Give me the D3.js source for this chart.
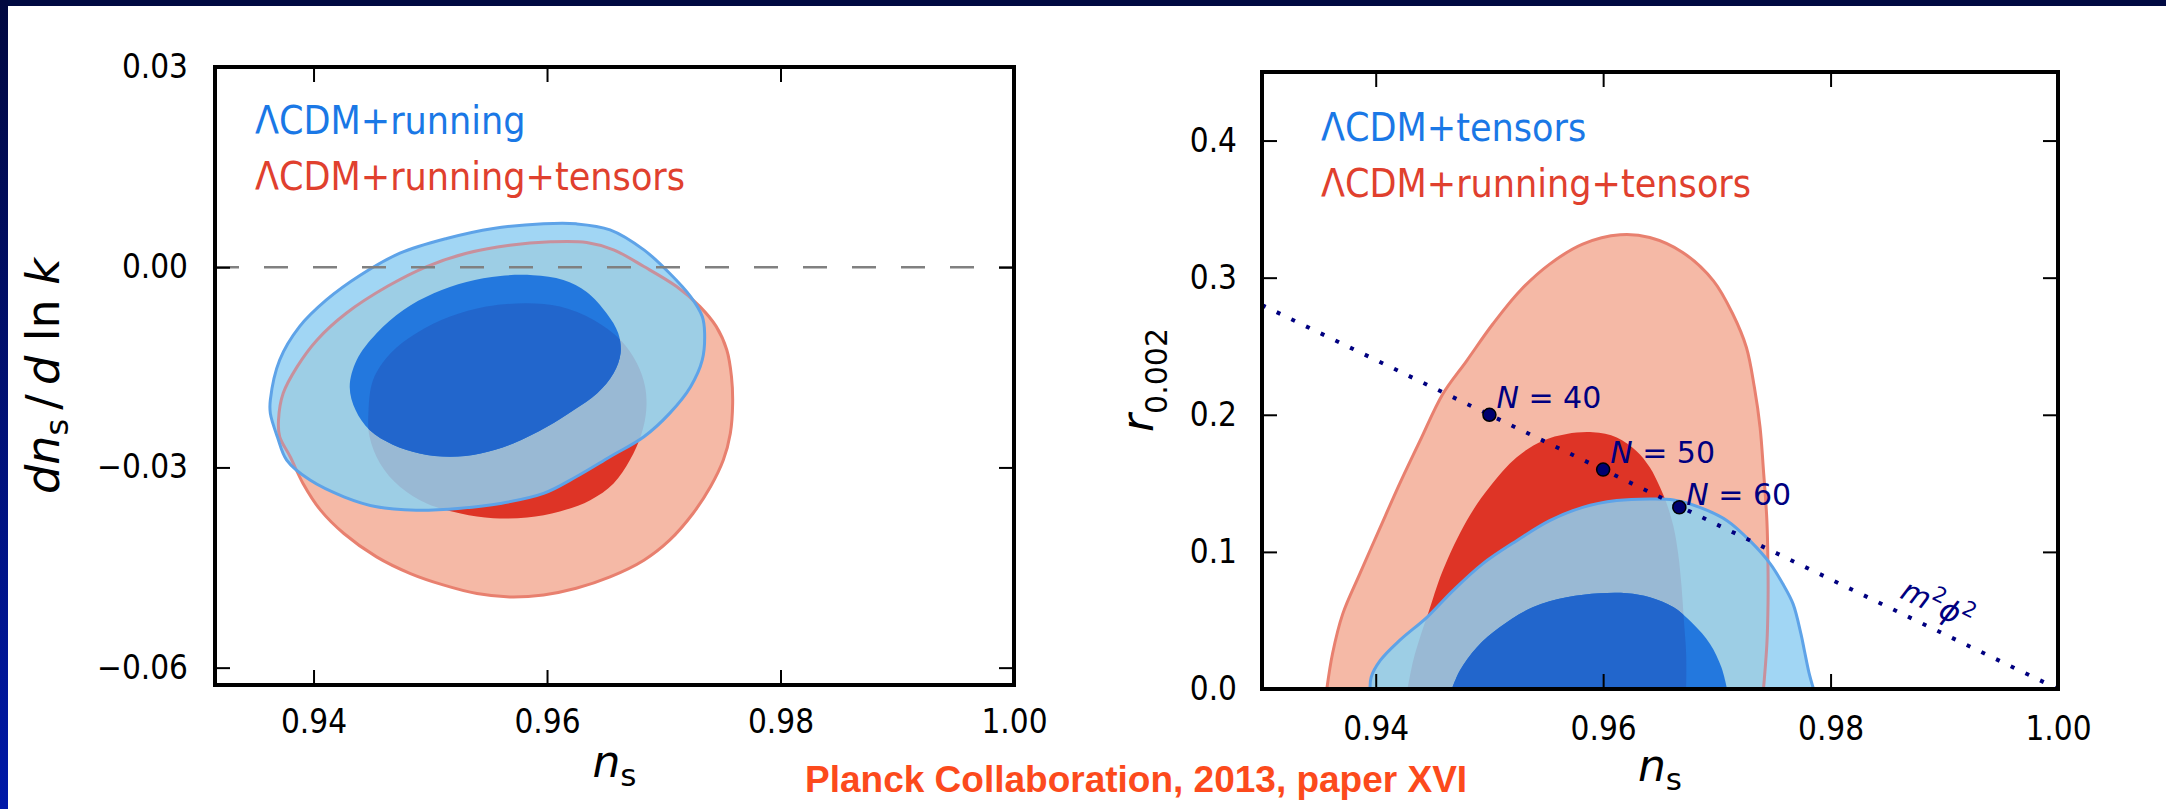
<!DOCTYPE html>
<html><head><meta charset="utf-8">
<script src="https://cdn.jsdelivr.net/npm/d3@7"></script>
<style>
html,body{margin:0;padding:0;background:#fff;overflow:hidden;}
svg{display:block;}
</style></head><body>
<svg id="c" width="2166" height="809"></svg>
<script>
// ---------------- DATA ----------------
// Left panel: n_s vs dn_s/dlnk
const leftXTicks = [0.94, 0.96, 0.98, 1.00];
const leftXTickLabels = ["0.94", "0.96", "0.98", "1.00"];
const leftYTicks = [-0.06, -0.03, 0.00, 0.03];
const leftYTickLabels = ["\u22120.06", "\u22120.03", "0.00", "0.03"];
const leftLegend = ["\u039BCDM+running", "\u039BCDM+running+tensors"];

// contours: [n_s, dn_s/dlnk]
const leftBlueOuter = [[0.9363,-0.0199],[0.9371,-0.0139],[0.9388,-0.0089],[0.9411,-0.0049],[0.9440,-0.0012],[0.9474,0.0021],[0.9514,0.0043],[0.9554,0.0058],[0.9597,0.0065],[0.9625,0.0065],[0.9654,0.0056],[0.9683,0.0026],[0.9705,-0.0009],[0.9723,-0.0044],[0.9733,-0.0074],[0.9735,-0.0099],[0.9733,-0.0139],[0.9723,-0.0179],[0.9705,-0.0219],[0.9683,-0.0254],[0.9654,-0.0284],[0.9625,-0.0314],[0.9597,-0.0339],[0.9560,-0.0354],[0.9526,-0.0361],[0.9488,-0.0364],[0.9454,-0.0359],[0.9426,-0.0344],[0.9397,-0.0319],[0.9377,-0.0289],[0.9369,-0.0254],[0.9363,-0.0219]];
const leftBlueInner = [[0.9431,-0.0179],[0.9437,-0.0139],[0.9454,-0.0099],[0.9477,-0.0064],[0.9503,-0.0039],[0.9531,-0.0022],[0.9560,-0.0013],[0.9588,-0.0012],[0.9614,-0.0019],[0.9634,-0.0037],[0.9651,-0.0069],[0.9661,-0.0099],[0.9663,-0.0129],[0.9657,-0.0159],[0.9643,-0.0189],[0.9623,-0.0214],[0.9600,-0.0239],[0.9571,-0.0264],[0.9543,-0.0279],[0.9517,-0.0284],[0.9491,-0.0279],[0.9468,-0.0266],[0.9448,-0.0244],[0.9436,-0.0214]];
const leftRedOuter = [[0.9370,-0.0229],[0.9374,-0.0189],[0.9386,-0.0149],[0.9403,-0.0109],[0.9428,-0.0069],[0.9463,-0.0029],[0.9497,0.0001],[0.9531,0.0021],[0.9568,0.0033],[0.9603,0.0038],[0.9634,0.0037],[0.9657,0.0026],[0.9683,0.0001],[0.9711,-0.0029],[0.9731,-0.0059],[0.9745,-0.0089],[0.9754,-0.0124],[0.9758,-0.0164],[0.9759,-0.0204],[0.9757,-0.0249],[0.9751,-0.0289],[0.9740,-0.0329],[0.9725,-0.0369],[0.9705,-0.0409],[0.9683,-0.0439],[0.9654,-0.0464],[0.9625,-0.0481],[0.9597,-0.0491],[0.9568,-0.0494],[0.9540,-0.0489],[0.9511,-0.0476],[0.9483,-0.0459],[0.9454,-0.0434],[0.9426,-0.0399],[0.9406,-0.0364],[0.9391,-0.0324],[0.9380,-0.0284],[0.9371,-0.0254]];
const leftRedInner = [[0.9447,-0.0219],[0.9451,-0.0169],[0.9466,-0.0129],[0.9488,-0.0099],[0.9517,-0.0074],[0.9548,-0.0059],[0.9583,-0.0054],[0.9611,-0.0059],[0.9640,-0.0079],[0.9663,-0.0109],[0.9677,-0.0144],[0.9684,-0.0179],[0.9685,-0.0214],[0.9681,-0.0249],[0.9671,-0.0289],[0.9657,-0.0324],[0.9637,-0.0349],[0.9611,-0.0366],[0.9583,-0.0375],[0.9554,-0.0376],[0.9526,-0.0369],[0.9497,-0.0354],[0.9474,-0.0329],[0.9457,-0.0294],[0.9448,-0.0254]];

// Right panel: n_s vs r_0.002
const rightXTicks = [0.94, 0.96, 0.98, 1.00];
const rightXTickLabels = ["0.94", "0.96", "0.98", "1.00"];
const rightYTicks = [0.0, 0.1, 0.2, 0.3, 0.4];
const rightYTickLabels = ["0.0", "0.1", "0.2", "0.3", "0.4"];
const rightLegend = ["\u039BCDM+tensors", "\u039BCDM+running+tensors"];

// contours: [n_s, r] (open at r = 0, closed along the axis)
const rightRedOuter = [[0.9357,0],[0.9362,0.0257],[0.9371,0.0548],[0.9386,0.0840],[0.9404,0.1179],[0.9421,0.1496],[0.9439,0.1811],[0.9459,0.2152],[0.9480,0.2394],[0.9503,0.2662],[0.9527,0.2905],[0.9553,0.3099],[0.9582,0.3245],[0.9615,0.3313],[0.9641,0.3293],[0.9670,0.3184],[0.9697,0.2977],[0.9714,0.2735],[0.9726,0.2491],[0.9733,0.2200],[0.9738,0.1908],[0.9741,0.1593],[0.9744,0.1228],[0.9745,0.0864],[0.9745,0.0621],[0.9744,0.0329],[0.9741,0]];
const rightRedInner = [[0.9428,0],[0.9433,0.0208],[0.9439,0.0378],[0.9446,0.0548],[0.9459,0.0864],[0.9480,0.1228],[0.9500,0.1471],[0.9524,0.1690],[0.9547,0.1811],[0.9568,0.1860],[0.9591,0.1872],[0.9612,0.1835],[0.9629,0.1738],[0.9641,0.1617],[0.9650,0.1471],[0.9656,0.1350],[0.9662,0.1179],[0.9666,0.0985],[0.9669,0.0742],[0.9671,0.0499],[0.9673,0.0257],[0.9673,0]];
const rightBlueOuter = [[0.9395,0],[0.9396,0.0086],[0.9404,0.0208],[0.9421,0.0354],[0.9445,0.0523],[0.9468,0.0718],[0.9494,0.0913],[0.9524,0.1082],[0.9553,0.1228],[0.9582,0.1325],[0.9612,0.1374],[0.9641,0.1386],[0.9662,0.1379],[0.9685,0.1325],[0.9709,0.1228],[0.9729,0.1082],[0.9747,0.0913],[0.9758,0.0767],[0.9767,0.0621],[0.9774,0.0400],[0.9777,0.0279],[0.9781,0.0120],[0.9785,0]];
const rightBlueInner = [[0.9467,0],[0.9474,0.0135],[0.9489,0.0305],[0.9509,0.0450],[0.9538,0.0596],[0.9568,0.0669],[0.9597,0.0698],[0.9621,0.0698],[0.9641,0.0669],[0.9662,0.0596],[0.9679,0.0475],[0.9694,0.0329],[0.9704,0.0159],[0.9709,0]];

// m^2 phi^2 prediction line and e-fold points
const phi2Line = [[0.93, 0.28], [1.00, 0.00]];
const efoldN = [40, 50, 60];
const efoldNs = [0.950, 0.960, 0.9667];
const efoldR = [0.200, 0.160, 0.1325];
const phi2Label = { ns: 0.9894, r: 0.0616 };

const creditText = "Planck Collaboration, 2013, paper XVI";

// ---------------- DRAWING ----------------
const svg = d3.select("#c");
const defs = svg.append("defs");
const TICKFONT = "'DejaVu Sans Condensed','DejaVu Sans',sans-serif";
const MATHFONT = "'DejaVu Sans',sans-serif";

// background frame of the slide
const grad = defs.append("linearGradient").attr("id","edge").attr("x1",0).attr("y1",0).attr("x2",0).attr("y2",1);
grad.append("stop").attr("offset","0").attr("stop-color","#010840");
grad.append("stop").attr("offset","1").attr("stop-color","#0019a8");
svg.append("rect").attr("x",0).attr("y",0).attr("width",2166).attr("height",809).attr("fill","#fff");
svg.append("rect").attr("x",0).attr("y",0).attr("width",2166).attr("height",6).attr("fill","#000a42");
svg.append("rect").attr("x",0).attr("y",0).attr("width",8).attr("height",809).attr("fill","url(#edge)");

function panel(cfg) {
  const x = d3.scaleLinear().domain(cfg.xDomain).range([cfg.x0, cfg.x1]);
  const y = d3.scaleLinear().domain(cfg.yDomain).range([cfg.y1, cfg.y0]);
  const id = cfg.id;
  const line = d3.line().x(d => x(d[0])).y(d => y(d[1]))
    .curve(cfg.open ? d3.curveCatmullRom : d3.curveCatmullRomClosed);
  const pd = pts => cfg.open ? line(pts) + "Z" : line(pts);
  const ro = pd(cfg.redOuter), ri = pd(cfg.redInner), bo = pd(cfg.blueOuter), bi = pd(cfg.blueInner);

  defs.append("clipPath").attr("id", id + "-area").append("rect")
    .attr("x", cfg.x0).attr("y", cfg.y0).attr("width", cfg.x1 - cfg.x0).attr("height", cfg.y1 - cfg.y0);
  defs.append("clipPath").attr("id", id + "-ro").append("path").attr("d", ro);
  defs.append("clipPath").attr("id", id + "-ri").append("path").attr("d", ri);
  defs.append("clipPath").attr("id", id + "-bo").append("path").attr("d", bo);

  const g = svg.append("g");
  const area = g.append("g").attr("clip-path", `url(#${id}-area)`);
  area.append("path").attr("d", ro).attr("fill", "#f5b9a6");
  area.append("path").attr("d", ri).attr("fill", "#de3426");
  area.append("path").attr("d", ro).attr("fill", "none").attr("stroke", "#e8806f").attr("stroke-width", 3);
  area.append("path").attr("d", bo).attr("fill", "#a1d6f4");
  area.append("path").attr("d", bo).attr("fill", "#9dcee5").attr("clip-path", `url(#${id}-ro)`);
  area.append("path").attr("d", bo).attr("fill", "#99b9d4").attr("clip-path", `url(#${id}-ri)`);
  area.append("path").attr("d", ro).attr("fill", "none").attr("stroke", "#c8909c").attr("stroke-width", 3).attr("clip-path", `url(#${id}-bo)`);
  area.append("path").attr("d", bi).attr("fill", "#2378de");
  area.append("path").attr("d", bi).attr("fill", "#2266cc").attr("clip-path", `url(#${id}-ri)`);
  area.append("path").attr("d", bo).attr("fill", "none").attr("stroke", "#5ea3e8").attr("stroke-width", 3);

  if (cfg.extra) cfg.extra(g, area, x, y);

  // axes with inward ticks
  const styleAxis = sel => {
    sel.select(".domain").remove();
    sel.selectAll(".tick line").attr("stroke", "#000").attr("stroke-width", 2);
    sel.selectAll(".tick text").attr("fill", "#000").style("font-family", TICKFONT).style("font-size", "33px").style("font-stretch", "condensed");
  };
  g.append("g").attr("transform", `translate(0,${cfg.y1})`)
    .call(d3.axisBottom(x).tickValues(cfg.xTicks).tickFormat((d, i) => cfg.xLabels[i]).tickSizeInner(-15).tickSizeOuter(0).tickPadding(cfg.xPad))
    .call(styleAxis);
  g.append("g").attr("transform", `translate(${cfg.x0},0)`)
    .call(d3.axisLeft(y).tickValues(cfg.yTicks).tickFormat((d, i) => cfg.yLabels[i]).tickSizeInner(-15).tickSizeOuter(0).tickPadding(cfg.yPad))
    .call(styleAxis);
  g.append("g").attr("transform", `translate(0,${cfg.y0})`)
    .call(d3.axisTop(x).tickValues(cfg.xTicks).tickFormat("").tickSizeInner(-15).tickSizeOuter(0))
    .call(styleAxis);
  g.append("g").attr("transform", `translate(${cfg.x1},0)`)
    .call(d3.axisRight(y).tickValues(cfg.yTicks).tickFormat("").tickSizeInner(-15).tickSizeOuter(0))
    .call(styleAxis);

  // frame
  g.append("rect").attr("x", cfg.x0).attr("y", cfg.y0).attr("width", cfg.x1 - cfg.x0).attr("height", cfg.y1 - cfg.y0)
    .attr("fill", "none").attr("stroke", "#000").attr("stroke-width", 4);

  // legend
  const legColors = ["#1a78e6", "#e0402e"];
  cfg.legend.forEach((t, i) => {
    g.append("text").attr("x", cfg.legX).attr("y", cfg.legY[i]).text(t)
      .attr("fill", legColors[i]).style("font-family", TICKFONT).style("font-stretch", "condensed").style("font-size", "39px");
  });

  // x label n_s
  const xl = g.append("text").attr("x", (cfg.x0 + cfg.x1) / 2).attr("y", cfg.xLabelY).attr("text-anchor", "middle")
    .style("font-family", MATHFONT).style("font-size", "44px").attr("fill", "#000");
  xl.append("tspan").style("font-style", "italic").text("n");
  xl.append("tspan").style("font-size", "31px").attr("dy", 9).text("s");

  cfg.yLabel(g);
  return { x, y };
}

// left panel
panel({
  id: "L", x0: 215, x1: 1014, y0: 67, y1: 685,
  xDomain: [0.93156, 1.0], yDomain: [-0.0626, 0.03],
  open: false,
  redOuter: leftRedOuter, redInner: leftRedInner, blueOuter: leftBlueOuter, blueInner: leftBlueInner,
  xTicks: leftXTicks, xLabels: leftXTickLabels, yTicks: leftYTicks, yLabels: leftYTickLabels,
  xPad: 25, yPad: 27,
  legend: leftLegend, legX: 255, legY: [134, 190],
  xLabelY: 777,
  extra: (g, area, x, y) => {
    g.append("line").attr("x1", x(x.domain()[0])).attr("x2", x(1.0)).attr("y1", y(0)).attr("y2", y(0))
      .attr("stroke", "#808080").attr("stroke-width", 2.5).attr("stroke-dasharray", "24 25");
  },
  yLabel: g => {
    const t = g.append("text").attr("transform", "translate(59,376) rotate(-90)").attr("text-anchor", "middle")
      .style("font-family", MATHFONT).style("font-size", "46px").attr("fill", "#000");
    t.append("tspan").style("font-style", "italic").text("dn");
    t.append("tspan").style("font-size", "32px").attr("dy", 9).text("s");
    t.append("tspan").attr("dy", -9).text("\u2009/\u2009");
    t.append("tspan").style("font-style", "italic").text("d");
    t.append("tspan").text(" ln ");
    t.append("tspan").style("font-style", "italic").text("k");
  }
});

// right panel
panel({
  id: "R", x0: 1262, x1: 2058, y0: 72, y1: 689,
  xDomain: [0.93, 1.0], yDomain: [0, 0.45],
  open: true,
  redOuter: rightRedOuter, redInner: rightRedInner, blueOuter: rightBlueOuter, blueInner: rightBlueInner,
  xTicks: rightXTicks, xLabels: rightXTickLabels, yTicks: rightYTicks, yLabels: rightYTickLabels,
  xPad: 28, yPad: 25,
  legend: rightLegend, legX: 1321, legY: [141, 197],
  xLabelY: 781,
  extra: (g, area, x, y) => {
    const ln = d3.line().x(d => x(d[0])).y(d => y(d[1]));
    area.append("path").attr("d", ln(phi2Line)).attr("fill", "none").attr("stroke", "#000080")
      .attr("stroke-width", 4).attr("stroke-dasharray", "4 12.3");
    const offs = [[7, -7], [7, -7], [7, -2]];
    efoldN.forEach((n, i) => {
      g.append("circle").attr("cx", x(efoldNs[i])).attr("cy", y(efoldR[i])).attr("r", 6.5)
        .attr("fill", "#000070").attr("stroke", "#000").attr("stroke-width", 1.5);
      const t = g.append("text").attr("x", x(efoldNs[i]) + offs[i][0]).attr("y", y(efoldR[i]) + offs[i][1])
        .style("font-family", MATHFONT).style("font-size", "30px").attr("fill", "#000080");
      t.append("tspan").style("font-style", "italic").text("N");
      t.append("tspan").text(" = " + n);
    });
    const px = x(phi2Label.ns), py = y(phi2Label.r);
    const t = g.append("text").attr("transform", `translate(${px},${py}) rotate(26)`).attr("text-anchor", "middle")
      .attr("dy", "0.35em").style("font-family", MATHFONT).style("font-size", "30px").attr("fill", "#000080");
    t.append("tspan").style("font-style", "italic").text("m");
    t.append("tspan").style("font-size", "21px").attr("dy", -13).text("2");
    t.append("tspan").style("font-style", "italic").attr("dy", 13).text("\u03D5");
    t.append("tspan").style("font-size", "21px").attr("dy", -13).text("2");
  },
  yLabel: g => {
    const t = g.append("text").attr("transform", "translate(1153,380) rotate(-90)").attr("text-anchor", "middle")
      .style("font-family", MATHFONT).style("font-size", "44px").attr("fill", "#000");
    t.append("tspan").style("font-style", "italic").text("r");
    t.append("tspan").style("font-size", "30px").attr("dy", 14).text("0.002");
  }
});

// credit line
svg.append("text").attr("x", 805).attr("y", 792).text(creditText)
  .style("font-family", "'Liberation Sans',Arial,sans-serif").style("font-weight", "bold").style("font-size", "37px")
  .attr("fill", "#fc4a1c");
</script>
</body></html>
